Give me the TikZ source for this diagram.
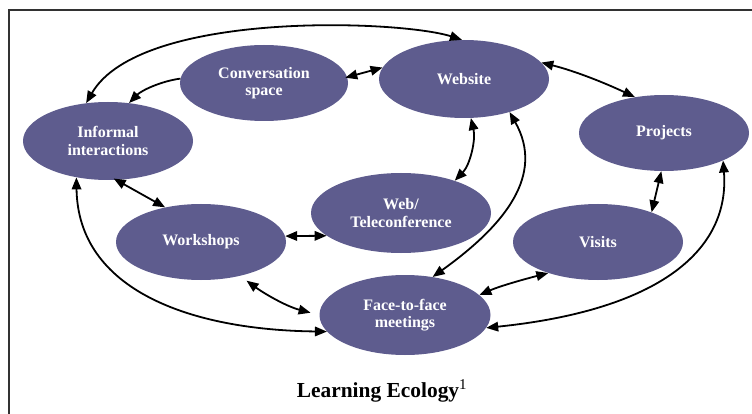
\documentclass[tikz,border=0pt]{standalone}
\usepackage{fontspec}
\setmainfont{Liberation Serif}
\usetikzlibrary{shapes.geometric,arrows.meta}
\definecolor{ecofill}{RGB}{94,92,142}
\definecolor{framegray}{RGB}{50,50,50}
\tikzset{
  eco/.style={ellipse, fill=ecofill, inner sep=0pt, text=white, align=center,
    font=\fontsize{16}{17.5}\selectfont\bfseries},
  link/.style={line width=1.8pt, draw=black},
  bi/.style={link, {Triangle[length=12pt,width=9.5pt]}-{Triangle[length=12pt,width=9.5pt]}},
  uni/.style={link, -{Triangle[length=12pt,width=9.5pt]}}
}
\begin{document}
\begin{tikzpicture}[x=1pt,y=-1pt]
\useasboundingbox (0,0) rectangle (752,414);
\fill[white] (0,0) rectangle (752,414);
% frame (top and left edges)
\draw[framegray, line width=1.6pt] (9,414) -- (9,10) -- (752,10);

% nodes
\node[eco, minimum width=168pt, minimum height=76pt] (conv) at (264,83) {Conversation\\space};
\node[eco, minimum width=170pt, minimum height=78pt] (inf) at (108,141) {Informal\\interactions};
\node[eco, minimum width=170pt, minimum height=78pt] (web) at (464,79) {Website};
\node[eco, minimum width=170pt, minimum height=76pt] (proj) at (664,133) {Projects};
\node[eco, minimum width=180pt, minimum height=80pt] (tele) at (401,213) {Web/\\Teleconference};
\node[eco, minimum width=170pt, minimum height=76pt] (work) at (201,242) {Workshops};
\node[eco, minimum width=170pt, minimum height=76pt] (vis) at (598,242) {Visits};
\node[eco, minimum width=171pt, minimum height=80pt] (f2f) at (405,315) {Face-to-face\\meetings};

% connectors
\draw[bi] (web.93) .. controls (400,20) and (140,10) .. (inf.120);
\draw[uni] (conv.177) .. controls (162,81) and (142,90) .. (inf.61);
\draw[bi, shorten <=-2pt] (conv.4) -- (web.172);
\draw[bi] (web.12) .. controls (575,71) and (605,83) .. (proj.129);
\draw[bi] (web.-80) .. controls (476,140) and (470,165) .. (tele.31);
\draw[bi] (web.-36) .. controls (545,175) and (505,225) .. (f2f.54);
\draw[bi] (proj.-94) -- (vis.29);
\draw[bi] (proj.-25) .. controls (730,250) and (660,310) .. (f2f.-9);
\draw[bi] (vis.-148) .. controls (525,279) and (500,286) .. (f2f.15);
\draw[bi] (inf.-131) .. controls (78,290) and (190,330) .. (f2f.-168);
\draw[bi, shorten <=-3pt] (inf.-78) -- (work.136);
\draw[bi] (work.4) -- (tele.197);
\draw[bi, shorten <=8pt, shorten >=9pt] (work.-41) .. controls (262,292) and (285,306) .. (f2f.180);

% caption
\node[font=\fontsize{21.4}{25}\selectfont\bfseries, inner sep=0pt] (title) at (382,391)
  {Learning Ecology\textsuperscript{\normalfont 1}};
\end{tikzpicture}
\end{document}
